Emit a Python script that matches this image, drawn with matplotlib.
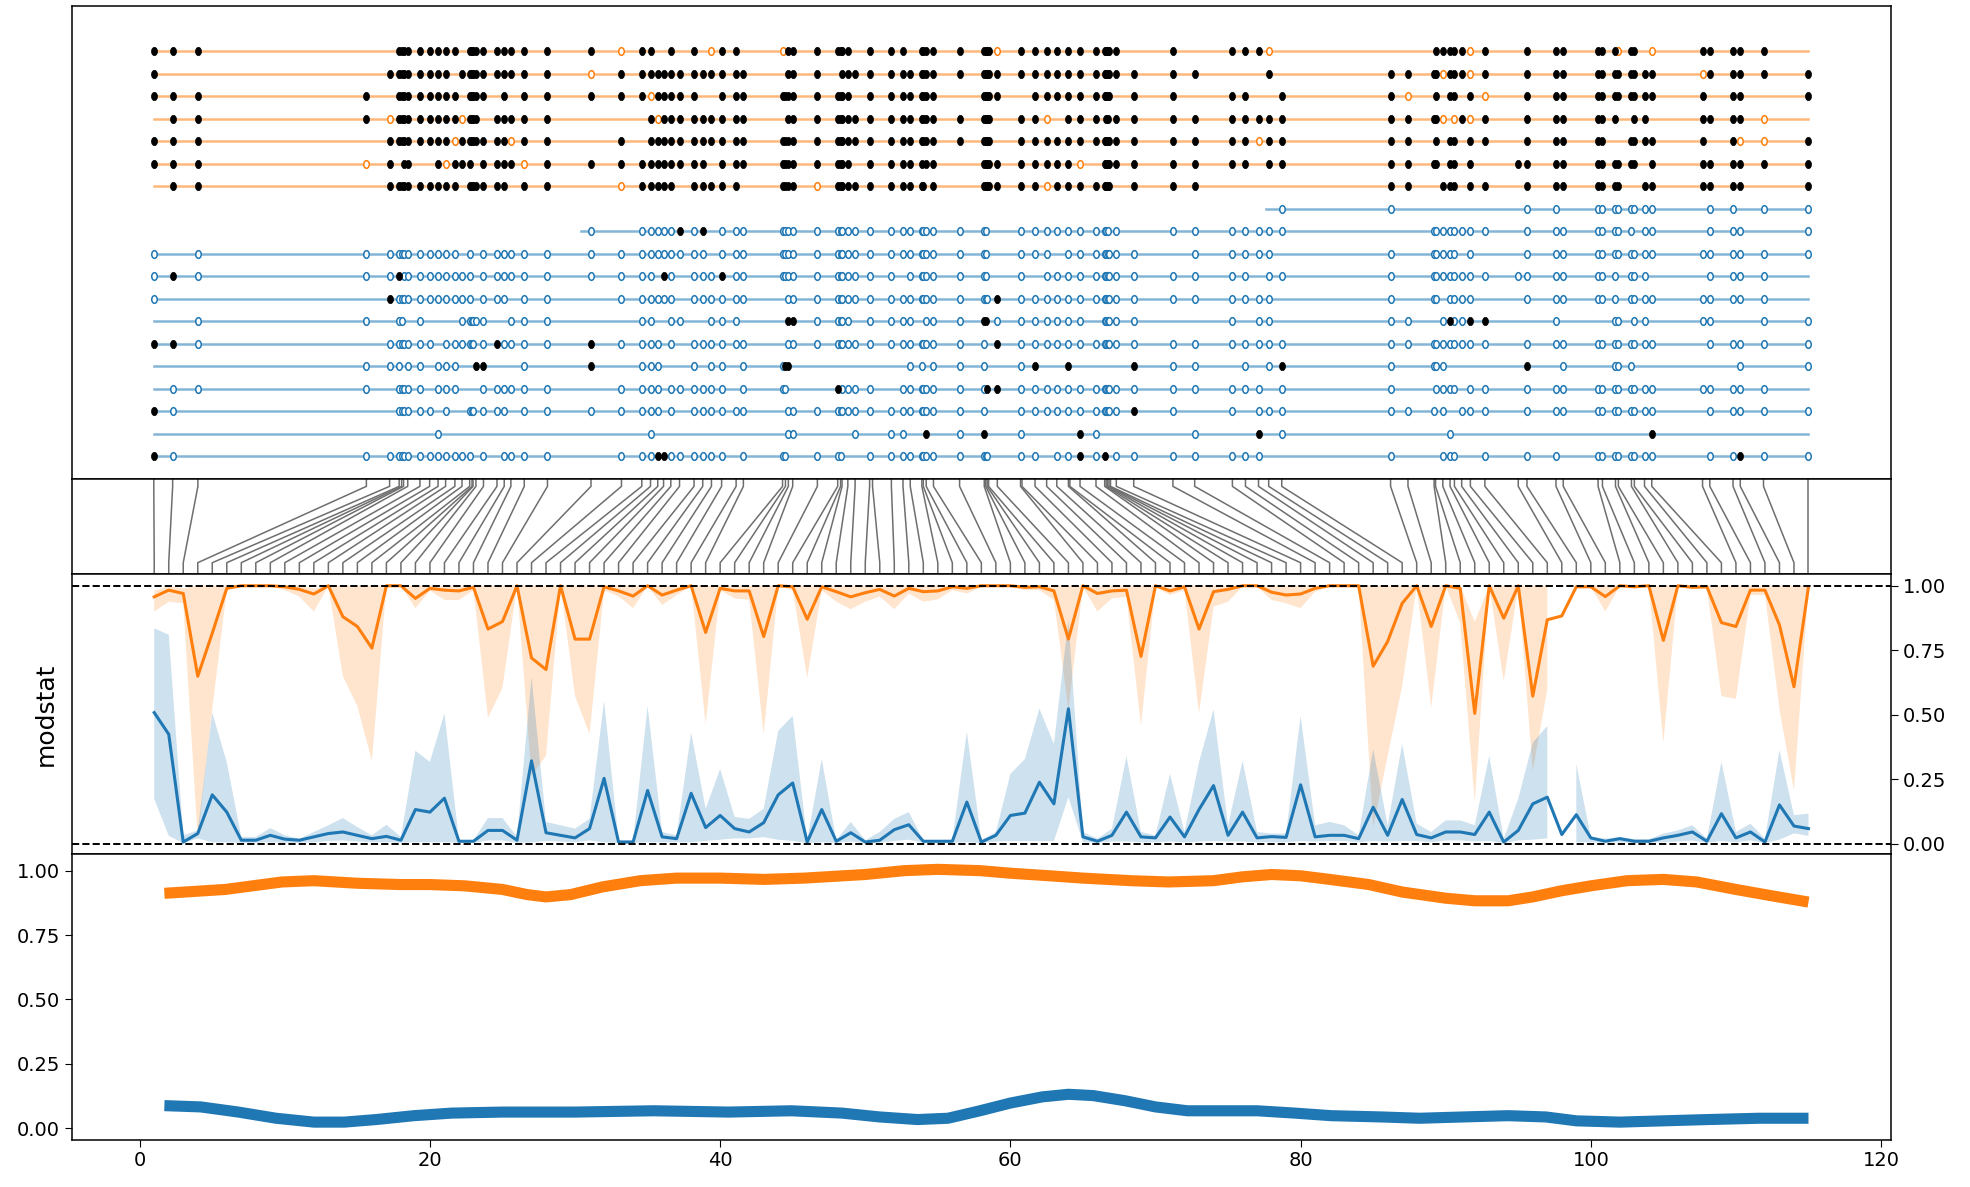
import numpy as np
import matplotlib
matplotlib.use('Agg')
import matplotlib.pyplot as plt
from matplotlib.path import Path
from matplotlib.transforms import Affine2D

# site positions along the read (same units as the index axis)
site_pos = [0.97, 2.27, 4.01, 15.62, 17.22, 17.88, 18.05, 18.18, 18.47, 19.31,
            19.98, 20.56, 21.08, 21.72, 22.21, 22.74, 22.9, 22.97, 23.17, 23.69,
            24.62, 25.12, 25.58, 26.5, 28.1, 31.1, 33.2, 34.6, 35.2, 35.7,
            36.1, 36.6, 37.2, 38.2, 38.8, 39.4, 40.1, 41.1, 41.6, 44.3,
            44.5, 44.7, 45.0, 46.7, 48.1, 48.3, 48.4, 48.8, 49.3, 50.3,
            50.5, 51.8, 52.6, 53.1, 53.9, 54.0, 54.2, 54.7, 56.5, 58.2,
            58.3, 58.4, 58.5, 59.1, 60.7, 60.8, 61.7, 62.5, 63.2, 64.0,
            64.1, 64.8, 65.9, 66.5, 66.6, 66.7, 66.8, 66.9, 67.3, 68.5,
            71.2, 72.7, 75.3, 76.2, 77.1, 77.8, 78.7, 86.2, 87.4, 89.2,
            89.3, 89.8, 90.3, 90.6, 91.1, 91.7, 92.7, 95.0, 95.6, 97.6,
            98.1, 100.5, 100.8, 101.7, 101.9, 102.8, 103.0, 103.7, 104.2, 107.7,
            108.2, 109.8, 110.3, 111.9, 115.0]

# per read: '-' no call, 'o' call (read colour), 'x' modified (black)
reads = [
    "xxx--xxxxx" "xxxx-xxxxx" "xxxxxxoxx-" "-x-x-oxx-o" "-xxxxxxx-x" "-xx-xxxxxx"
    "xxxox-xxxx" "-xxxxxx-x-" "x-xxxo----" "xxxxxox-xx" "xxxxoxx-ox" "xxxx-",
    "x---xxxxxx" "xxx-xxxxxx" "xxxxxoxxxx" "xxxxxxxxx-" "-xxx--xxxx" "-xxxxxxxxx"
    "xxxxx-xxxx" "-xxxxxx-xx" "xx---x-xxx" "xoxxxox-xx" "xxxxxxxxxo" "xxxxx",
    "xxxx-xxxxx" "xxxx-xxxxx" "-x-xxxxxox" "xxxx--xxxx" "xxxxxxxx-x" "-xxxxxxx-x"
    "xxxx--xxxx" "-xxxxxx--x" "x-xx--xxo-" "x-xx-xo-xx" "xxxxxxxxxx" "-xx-x",
    "-xxxoxxxxx" "xxxxoxxxx-" "xxxxx---xo" "xxxxxxxxx-" "-xxxxxxxxx" "-xxxxxxxxx"
    "xxx-x-xo-x" "-xx-xx--xx" "xxxxxxxxxx" "xo-oxox-xx" "xxxx--xx-x" "xxxo-",
    "xxx-xxxxxx" "xxxoxxxxxx" "xxoxx-x-xx" "xxxxxxxxxx" "xxxxxxxxxx" "-xxxxxxxxx"
    "xxx-x-xxxx" "-xxxxxx-xx" "xxxxoxxxx-" "x-xx-xx-xx" "xxx--xxxxx" "-xoox",
    "xxxox--xx-" "-xoxxx---x" "xxxoxxxxxx" "xxxxx-xxxx" "xxxxxxxx-x" "-xxxx-xx-x"
    "xxxxx-xxxx" "-o-xxxx-xx" "xxxx-xxxxx" "x-xx-x-xxx" "xxxxxxx-xx" "xxxxx",
    "-xx-xxxxxx" "xxxx-xxxxx" "xx-xx-oxxx" "xx-xxxxx-x" "xxxoxxxxxx" "-xxxxx-x-x"
    "xxxxx-xoxx" "-xxxxxx--x" "xx-----xx-" "-xxx-xx-xx" "xxxxx--xxx" "xxx-x",
    "----------" "----------" "----------" "----------" "----------" "----------"
    "----------" "----------" "------oo--" "--------oo" "-oooooooo-" "oo-oo",
    "----------" "----------" "-----o-ooo" "ooxox-oooo" "oooooooooo" "-ooooooooo"
    "o---o-oooo" "-ooooo--o-" "ooooooo--o" "ooooooo-oo" "oooooo-oo-" "ooo-o",
    "o-oooooooo" "oooo-o---o" "oooooooooo" "ooooo-oooo" "oooooooooo" "-ooooooooo"
    "o---o-oo-o" "-oooooo-oo" "-ooooo-o-o" "oooo-o--oo" "oooooooooo" "ooooo",
    "oxooox-ooo" "oooooo---o" "ooooooooo-" "xo-oooxooo" "oooooooooo" "-o-ooooooo"
    "o---o--ooo" "-oooooo-oo" "oooo-ooo-o" "oooooooooo" "oooo-ooo--" "oooo-",
    "o---xooooo" "oooooo---o" "oo-oo-oooo" "oo-oooooo-" "-ooooooooo" "-ooooooooo"
    "oo-xo-oooo" "-oooooo-oo" "oooooo-o-o" "o-oooo--oo" "oooo-ooooo" "oooo-",
    "--oo-oo--o" "----oooooo" "--ooo--oo-" "-oo--ooo--" "-xxooooo-o" "-ooo--ooox"
    "x--oo-oooo" "-o-oooo-oo" "--o-oo-oo-" "-oxooxx--o" "---oo-oo-o" "o--oo",
    "xxo-oooooo" "o-oooooo-o" "xooooxoooo" "-o-oooooo-" "-ooooooooo" "-ooooooooo"
    "---xo-oooo" "-oooooo-oo" "oooooooooo" "ooooooo-oo" "ooooooooo-" "ooooo",
    "---ooo--oo" "-ooo----xx" "---o-x-ooo" "---o-oo-oo" "xx--------" "---oo--ooo"
    "----o-x--x" "---------x" "oo-o-oxo-o" "oo------x-" "o--ooo----" "--o-o",
    "-ooo-ooooo" "-ooo-----o" "ooooo-oooo" "-oooooo-oo" "o---x-oooo" "--oooooooo"
    "-x-xo-oooo" "-oooooo-oo" "ooooo-oo--" "oooo-oo-oo" "oooooooooo" "oooo-",
    "xo---ooooo" "o-o--ooo-o" "oo-ooooooo" "-o-oooooo-" "-ooooooooo" "-ooooooooo"
    "----o-oooo" "-oooooo-ox" "o-o-oooooo" "-o--ooo-oo" "ooooooooo-" "ooooo",
    "----------" "-o--------" "--------o-" "----------" "-oo-----o-" "-oo---x-ox"
    "----o-----" "-xo-------" "-o--x-o---" "--o-------" "--------x-" "-----",
    "xo-ooooooo" "oooooo---o" "-oooo-ooox" "xoooooo-oo" "o--ooo---o" "-ooooooooo"
    "oo--o-o-oo" "-xox----oo" "ooooo--o--" "-ooo--o-oo" "-oooooooo-" "ooxoo",
]
read_colors = ['C1'] * 7 + ['C0'] * 12
read_start = [0.97] * 7 + [77.6, 30.4] + [0.97] * 10

# modstat per site index (mean and band)
orange_mean = [0.957, 0.983, 0.970, 0.649, 0.816, 0.990, 1.0, 1.0, 1.0, 0.996,
               0.986, 0.968, 1.0, 0.880, 0.842, 0.758, 1.0, 1.0, 0.951, 0.990,
               0.983, 0.980, 0.994, 0.832, 0.861, 1.0, 0.720, 0.675, 1.0, 0.793,
               0.793, 0.996, 0.980, 0.960, 1.0, 0.964, 0.983, 1.0, 0.819, 0.990,
               0.980, 0.980, 0.803, 1.0, 0.996, 0.870, 0.996, 0.977, 0.957, 0.973,
               0.986, 0.960, 0.990, 0.977, 0.980, 0.996, 0.990, 1.0, 1.0, 1.0,
               0.994, 0.996, 0.980, 0.793, 1.0, 0.970, 0.980, 0.983, 0.726, 1.0,
               0.980, 0.996, 0.832, 0.977, 0.986, 1.0, 1.0, 0.975, 0.964, 0.968,
               0.990, 1.0, 1.0, 1.0, 0.688, 0.784, 0.932, 1.0, 0.842, 1.0,
               0.990, 0.505, 1.0, 0.874, 1.0, 0.572, 0.868, 0.883, 0.996, 0.996,
               0.958, 1.0, 0.996, 1.0, 0.788, 1.0, 0.994, 0.996, 0.857, 0.842,
               0.983, 0.983, 0.848, 0.608, 0.996]
orange_lo = [0.900, 0.938, 0.932, 0.019, 0.521, 0.983, 0.999, 0.999, 0.996, 0.983,
             0.958, 0.900, 0.999, 0.649, 0.533, 0.321, 0.999, 0.999, 0.913, 0.981,
             0.945, 0.945, 0.983, 0.488, 0.604, 0.999, 0.263, 0.341, 0.999, 0.572,
             0.424, 0.983, 0.958, 0.913, 0.999, 0.925, 0.964, 0.999, 0.463, 0.983,
             0.951, 0.945, 0.424, 0.996, 0.983, 0.643, 0.983, 0.938, 0.909, 0.938,
             0.958, 0.909, 0.970, 0.938, 0.947, 0.983, 0.970, 0.996, 0.999, 0.996,
             0.983, 0.983, 0.945, 0.521, 0.996, 0.900, 0.951, 0.958, 0.456, 0.996,
             0.964, 0.983, 0.505, 0.919, 0.938, 0.996, 0.996, 0.945, 0.932, 0.913,
             0.977, 0.999, 0.999, 0.999, 0.064, 0.341, 0.611, 0.999, 0.527, 0.999,
             0.855, 0.161, 0.999, 0.630, 0.999, 0.283, 0.598, np.nan, 0.996, 0.996,
             0.900, 0.999, 0.999, 0.999, 0.392, 0.999, 0.990, 0.990, 0.572, 0.562,
             0.964, 0.964, 0.521, 0.206, 0.996]
orange_hi = [0.98, 1.0, 0.99, 1.0, 1.0, 1.0, 1.0, 1.0, 1.0, 1.0,
             1.0, 0.99, 1.0, 1.0, 1.0, 1.0, 1.0, 1.0, 1.0, 1.0,
             1.0, 1.0, 1.0, 1.0, 1.0, 1.0, 1.0, 1.0, 1.0, 1.0,
             1.0, 1.0, 1.0, 1.0, 1.0, 1.0, 1.0, 1.0, 1.0, 1.0,
             1.0, 1.0, 1.0, 1.0, 1.0, 1.0, 1.0, 1.0, 1.0, 1.0,
             1.0, 1.0, 1.0, 1.0, 1.0, 1.0, 1.0, 1.0, 1.0, 1.0,
             1.0, 1.0, 1.0, 1.0, 1.0, 1.0, 1.0, 1.0, 1.0, 1.0,
             1.0, 1.0, 1.0, 1.0, 1.0, 1.0, 1.0, 1.0, 1.0, 1.0,
             1.0, 1.0, 1.0, 1.0, 1.0, 1.0, 1.0, 1.0, 1.0, 1.0,
             1.0, 0.86, 1.0, 1.0, 1.0, 1.0, 1.0, np.nan, 1.0, 1.0,
             1.0, 1.0, 1.0, 1.0, 1.0, 1.0, 1.0, 1.0, 1.0, 1.0,
             1.0, 1.0, 1.0, 1.0, 1.0]
blue_mean = [0.508, 0.424, 0.006, 0.039, 0.189, 0.122, 0.013, 0.013, 0.032, 0.017,
             0.013, 0.026, 0.039, 0.045, 0.032, 0.019, 0.028, 0.013, 0.132, 0.122,
             0.176, 0.009, 0.009, 0.051, 0.051, 0.013, 0.321, 0.042, 0.032, 0.022,
             0.058, 0.253, 0.006, 0.006, 0.206, 0.026, 0.019, 0.195, 0.062, 0.109,
             0.058, 0.045, 0.081, 0.189, 0.235, 0.006, 0.132, 0.009, 0.042, 0.006,
             0.013, 0.054, 0.073, 0.009, 0.009, 0.009, 0.161, 0.006, 0.032, 0.109,
             0.118, 0.238, 0.154, 0.523, 0.026, 0.009, 0.032, 0.122, 0.026, 0.022,
             0.103, 0.026, 0.132, 0.225, 0.032, 0.122, 0.022, 0.027, 0.024, 0.228,
             0.026, 0.032, 0.032, 0.019, 0.141, 0.032, 0.171, 0.035, 0.022, 0.045,
             0.045, 0.035, 0.122, 0.006, 0.051, 0.154, 0.180, 0.035, 0.112, 0.022,
             0.009, 0.019, 0.009, 0.009, 0.022, 0.032, 0.045, 0.009, 0.116, 0.022,
             0.045, 0.006, 0.150, 0.068, 0.058]
blue_lo = [0.174, 0.030, 0.002, 0.020, 0.005, 0.005, 0.003, 0.003, 0.005, 0.003,
           0.003, 0.005, 0.010, 0.012, 0.008, 0.005, 0.005, 0.003, 0.005, 0.005,
           0.005, 0.003, 0.003, 0.012, 0.012, 0.003, 0.005, 0.010, 0.008, 0.005,
           0.012, 0.005, 0.002, 0.002, 0.005, 0.005, 0.005, 0.005, 0.010, 0.015,
           0.020, 0.020, 0.025, 0.015, 0.010, 0.002, 0.005, 0.003, 0.008, 0.002,
           0.003, 0.010, 0.015, 0.003, 0.003, 0.003, 0.005, 0.002, 0.008, 0.010,
           0.010, 0.010, 0.010, 0.180, 0.005, 0.003, 0.008, 0.008, 0.005, 0.005,
           0.008, 0.005, 0.008, 0.010, 0.008, 0.008, 0.005, 0.005, 0.005, 0.010,
           0.008, 0.010, 0.010, 0.005, 0.010, 0.008, 0.010, 0.010, 0.005, 0.012,
           0.012, 0.008, 0.010, 0.002, 0.012, 0.015, 0.020, np.nan, 0.005, 0.005,
           0.003, 0.005, 0.003, 0.003, 0.005, 0.008, 0.012, 0.003, 0.010, 0.005,
           0.012, 0.002, 0.015, 0.040, 0.030]
blue_hi = [0.835, 0.810, 0.032, 0.051, 0.508, 0.315, 0.026, 0.026, 0.060, 0.032,
           0.019, 0.045, 0.071, 0.099, 0.064, 0.032, 0.073, 0.026, 0.360, 0.317,
           0.505, 0.013, 0.013, 0.099, 0.099, 0.026, 0.647, 0.084, 0.071, 0.058,
           0.096, 0.553, 0.013, 0.013, 0.533, 0.045, 0.032, 0.431, 0.135, 0.289,
           0.103, 0.096, 0.135, 0.437, 0.495, 0.013, 0.328, 0.013, 0.084, 0.013,
           0.045, 0.096, 0.122, 0.013, 0.013, 0.013, 0.434, 0.013, 0.045, 0.270,
           0.328, 0.523, 0.386, 0.868, 0.045, 0.019, 0.058, 0.338, 0.045, 0.032,
           0.270, 0.045, 0.315, 0.520, 0.071, 0.321, 0.045, 0.039, 0.039, 0.495,
           0.071, 0.084, 0.071, 0.032, 0.366, 0.071, 0.386, 0.077, 0.045, 0.090,
           0.090, 0.071, 0.340, 0.019, 0.174, 0.392, 0.456, np.nan, 0.308, 0.026,
           0.019, 0.026, 0.017, 0.017, 0.039, 0.051, 0.071, 0.019, 0.317, 0.045,
           0.077, 0.019, 0.362, 0.110, 0.116]

# smoothed modstat
orange_sx = [1.7, 5.9, 9.8, 12, 15, 18, 20, 22.4, 25, 26.7,
             28, 29.7, 31.9, 34.5, 37, 40, 43, 45.8, 50, 52.7,
             55, 57.9, 60, 62.7, 65, 68.3, 70.9, 74, 76, 78,
             80, 82, 84.7, 87, 90, 92, 94.3, 96, 98, 100,
             102.5, 105, 107.3, 110, 112.5, 115]
orange_sy = [0.912, 0.927, 0.956, 0.961, 0.951, 0.946, 0.946, 0.941, 0.927, 0.907,
             0.898, 0.907, 0.937, 0.961, 0.971, 0.971, 0.966, 0.971, 0.985, 1.0,
             1.005, 1.0, 0.990, 0.980, 0.971, 0.961, 0.956, 0.961, 0.976, 0.985,
             0.980, 0.966, 0.946, 0.917, 0.893, 0.883, 0.883, 0.898, 0.922, 0.941,
             0.961, 0.966, 0.956, 0.927, 0.902, 0.878]
blue_sx = [1.7, 4.2, 6.8, 9.4, 12, 14.1, 16.3, 18.9, 21.5, 25,
           30, 35.4, 40.6, 44.9, 48.4, 51, 53.6, 55.7, 57.9, 60,
           62.2, 64, 65.7, 67.9, 70, 72.2, 74.8, 77, 79.6, 82.1,
           85.6, 88.2, 91.2, 94.3, 96.9, 99, 102, 105, 108.1, 111.6, 115]
blue_sy = [0.088, 0.083, 0.063, 0.039, 0.024, 0.024, 0.034, 0.049, 0.059, 0.063,
           0.063, 0.068, 0.063, 0.068, 0.059, 0.044, 0.034, 0.039, 0.068, 0.098,
           0.122, 0.132, 0.127, 0.107, 0.083, 0.068, 0.068, 0.068, 0.059, 0.049,
           0.044, 0.039, 0.044, 0.049, 0.044, 0.029, 0.024, 0.029, 0.034, 0.039, 0.039]

plt.rcParams['font.size'] = 14
plt.rcParams['axes.linewidth'] = 1.1

n_sites = len(site_pos)
idx = np.arange(1, n_sites + 1)
xlim = (-4.7, 120.7)
ell = Path.unit_circle().transformed(Affine2D().scale(0.72, 1.0))

fig = plt.figure(figsize=(19.7, 11.87), dpi=100)
L, W = 0.0363, 0.9237
ax_reads = fig.add_axes([L, 0.5967, W, 0.398])
ax_link = fig.add_axes([L, 0.5163, W, 0.0804])
ax_mod = fig.add_axes([L, 0.2802, W, 0.2361])
ax_smooth = fig.add_axes([L, 0.0399, W, 0.2403])

# reads with calls
n_reads = len(reads)
for r, (s, c, x0) in enumerate(zip(reads, read_colors, read_start)):
    s = s.ljust(n_sites, '-')[:n_sites]
    y = n_reads - 1 - r
    ax_reads.plot([x0, site_pos[-1]], [y, y], color=c, alpha=0.55, lw=1.8, zorder=1)
    xo = [p for p, ch in zip(site_pos, s) if ch == 'o']
    xx = [p for p, ch in zip(site_pos, s) if ch == 'x']
    ax_reads.plot(xo, [y] * len(xo), ls='none', marker=ell, ms=5.5, mfc='white',
                  mec=c, mew=1.1, zorder=2)
    ax_reads.plot(xx, [y] * len(xx), ls='none', marker=ell, ms=6, mfc='k',
                  mec='k', mew=0.5, zorder=3)
ax_reads.set_xlim(xlim)
ax_reads.set_ylim(-1, n_reads + 1)
ax_reads.set_xticks([])
ax_reads.set_yticks([])

# site position -> index
for p, i in zip(site_pos, idx):
    ax_link.plot([p, p, i, i], [1, 0.92, 0.12, 0], color='#6e6e6e', lw=1.1)
ax_link.set_xlim(xlim)
ax_link.set_ylim(0, 1)
ax_link.set_xticks([])
ax_link.set_yticks([])

# modstat
ax_mod.fill_between(idx, orange_lo, orange_hi, color='C1', alpha=0.2, lw=0)
ax_mod.fill_between(idx, blue_lo, blue_hi, color='C0', alpha=0.22, lw=0)
ax_mod.plot(idx, orange_mean, color='C1', lw=2.2)
ax_mod.plot(idx, blue_mean, color='C0', lw=2.2)
ax_mod.axhline(0, color='k', ls='--', lw=1.4)
ax_mod.axhline(1, color='k', ls='--', lw=1.4)
ax_mod.set_xlim(xlim)
ax_mod.set_ylim(-0.042, 1.045)
ax_mod.set_xticks([])
ax_mod.yaxis.tick_right()
ax_mod.yaxis.set_label_position('left')
ax_mod.set_yticks([0, 0.25, 0.5, 0.75, 1.0])
ax_mod.yaxis.set_major_formatter('{x:.2f}')
ax_mod.set_ylabel('modstat', fontsize=18, labelpad=10)
ax_mod.tick_params(length=5)

# smoothed
ax_smooth.plot(orange_sx, orange_sy, color='C1', lw=8, solid_capstyle='butt',
               solid_joinstyle='round')
ax_smooth.plot(blue_sx, blue_sy, color='C0', lw=8, solid_capstyle='butt',
               solid_joinstyle='round')
ax_smooth.set_xlim(xlim)
ax_smooth.set_ylim(-0.044, 1.063)
ax_smooth.set_yticks([0, 0.25, 0.5, 0.75, 1.0])
ax_smooth.yaxis.set_major_formatter('{x:.2f}')
ax_smooth.set_xticks([0, 20, 40, 60, 80, 100, 120])
ax_smooth.tick_params(length=5)

fig.savefig('out.png', dpi=100)
